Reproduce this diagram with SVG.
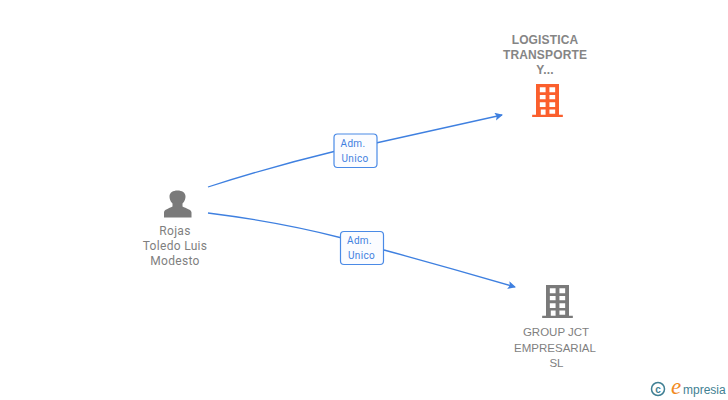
<svg xmlns="http://www.w3.org/2000/svg" width="728" height="400" viewBox="0 0 728 400">
<style>
.n{font-family:"Roboto","Liberation Sans",sans-serif;font-size:12px;fill:#7f7f7f;text-anchor:middle;letter-spacing:.3px}
.b{font-weight:700;font-family:"Liberation Sans",sans-serif;letter-spacing:.15px;fill:#858585}
.g{font-family:"Liberation Sans",sans-serif;font-size:11.500px;letter-spacing:0}
.e{fill:none;stroke:#3f80e0;stroke-width:1.300}
.lb{fill:#fbfcff;stroke:#4a8ae6;stroke-width:1.200}
.lt{font-family:"Roboto","Liberation Sans",sans-serif;font-size:10px;fill:#3f80e0;text-anchor:middle;letter-spacing:.3px}
</style>
<defs>
<marker id="a" markerWidth="10" markerHeight="10" refX="7" refY="4" orient="auto" markerUnits="userSpaceOnUse"><path d="M0 0L8 4L0 8L1.600 4Z" fill="#3f80e0"/></marker>
<symbol id="bld" viewBox="0 0 32 36" overflow="visible">
<path fill-rule="evenodd" d="M4 0H28V32H32V34.500H0V32H4ZM8 3.500V8.500H14V3.500ZM18 3.500V8.500H24V3.500ZM8 11.500V16H14V11.500ZM18 11.500V16H24V11.500ZM8 19V24H14V19ZM18 19V24H24V19ZM9 26.500V32H14V26.500ZM18 26.500V31H24V26.500Z"/>
</symbol>
</defs>
<g id="connectors">
<path class="e" d="M208 187Q270 167 336 151"/>
<path class="e" d="M376 143Q440 129 502 115" marker-end="url(#a)"/>
<path class="e" d="M208 213Q280 222 342 238"/>
<path class="e" d="M384 250Q450 268 515 287" marker-end="url(#a)"/>
</g>
<g id="label-1"><rect class="lb" x="334" y="134" width="43" height="33.500" rx="3.500"/><text class="lt" x="353" y="147">Adm.</text><text class="lt" x="355" y="162">Unico</text></g>
<g id="label-2"><rect class="lb" x="340.500" y="231.500" width="43" height="33" rx="3.500"/><text class="lt" x="359.500" y="244">Adm.</text><text class="lt" x="361.500" y="259">Unico</text></g>
<g id="node-person">
<path fill="#7a7a7a" d="M164 217.500V212.500C164 209.500 169 208.500 172.500 206.500V203.500C170 201 169.500 198.500 169.500 196.500C169.500 192.500 173 190.500 177.500 190.500C182 190.500 185.500 192.500 185.500 196.500C185.500 198.500 185 201 182.500 203.500V206.500C186 208.500 191.500 209.500 191.500 212.500V217.500Z"/>
<text class="n" x="175" y="235">Rojas</text><text class="n" x="175" y="250">Toledo Luis</text><text class="n" x="175" y="265">Modesto</text>
</g>
<g id="node-logistica">
<text class="n b" x="545" y="44">LOGISTICA</text><text class="n b" x="545" y="59">TRANSPORTE</text><text class="n b" x="545" y="74">Y...</text>
<use href="#bld" x="531.500" y="84" width="32" height="34.500" fill="#fb5f2d"/>
</g>
<g id="node-group">
<use href="#bld" x="541.500" y="285" width="32" height="34.500" fill="#7a7a7a"/>
<text class="n g" x="556" y="336">GROUP JCT</text><text class="n g" x="555" y="352">EMPRESARIAL</text><text class="n g" x="556.500" y="367">SL</text>
</g>
<g id="brand">
<circle cx="658" cy="389" r="6.500" fill="none" stroke="#3f7f93" stroke-width="1.500"/>
<text x="658" y="392.500" font-family="Liberation Sans,sans-serif" font-size="10" font-weight="700" fill="#3f7f93" text-anchor="middle">c</text>
<text x="671" y="394" font-family="Liberation Serif,serif" font-style="italic" font-size="23" fill="#f28a1e">e</text>
<text x="683" y="394" font-family="Liberation Sans,sans-serif" font-size="12" fill="#3f7f93">mpresia</text>
</g>
</svg>
